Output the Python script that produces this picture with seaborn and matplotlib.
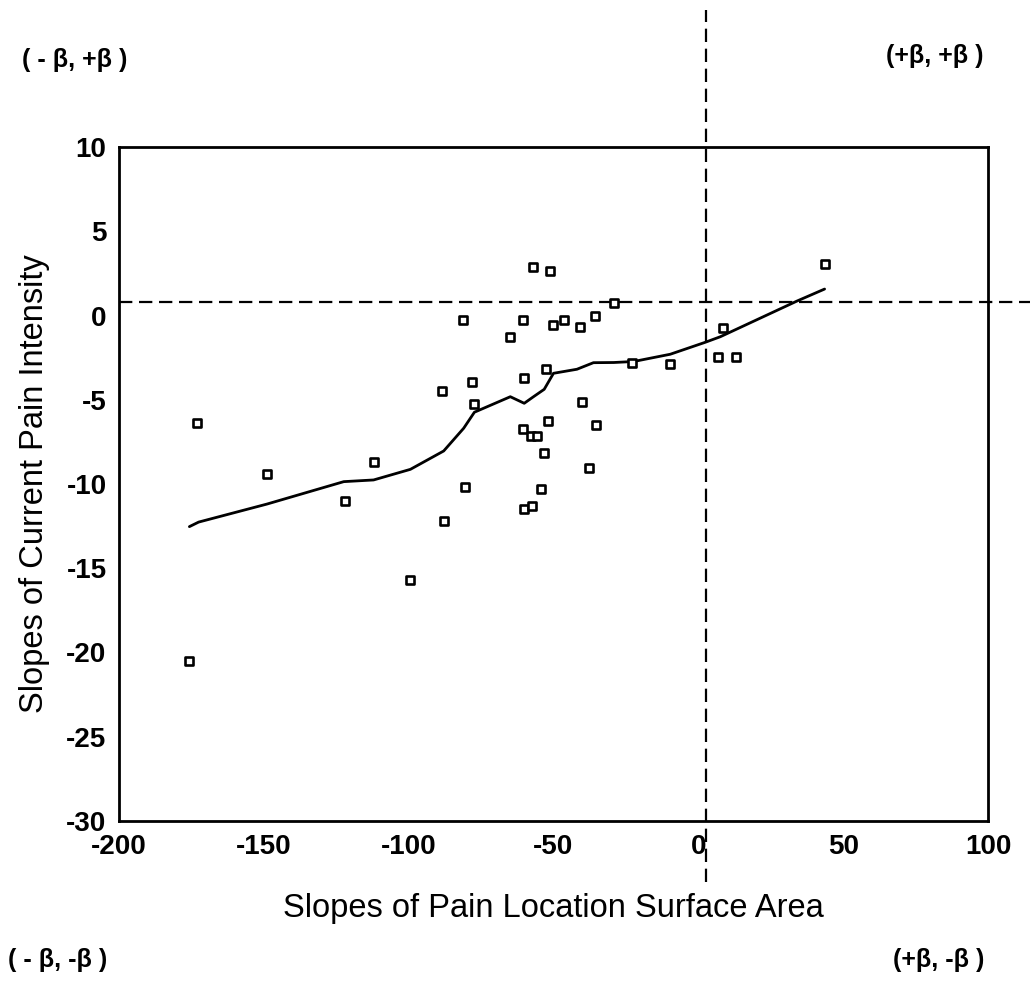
import matplotlib
matplotlib.use("Agg")
import matplotlib.pyplot as plt
import seaborn as sns
import pandas as pd

# ---- data ----
pla_slopes = [-56.9, -51.2, -29.1, -81.1, -60.6, -50.1, -46.4, -40.8, -35.8, -64.9,
              -22.8, -52.7, -60.1, -78.0, -88.6, -77.3, -40.1, -52.0, -35.2, -60.6,
              -57.6, -55.7, -53.2, -37.7, -80.4, -54.2, -87.9, -60.1, -57.4, -173.2,
              -149.0, -112.0, -121.9, -99.6, -175.7, 43.6, 8.4, 6.9, 13.0, -9.9]
cpi_slopes = [2.86, 2.64, 0.76, -0.25, -0.25, -0.54, -0.25, -0.66, -0.03, -1.30,
              -2.80, -3.19, -3.73, -3.95, -4.46, -5.23, -5.11, -6.28, -6.48, -6.72,
              -7.13, -7.13, -8.18, -9.05, -10.2, -10.3, -12.2, -11.5, -11.3, -6.40,
              -9.43, -8.69, -11.0, -15.7, -20.5, 3.07, -0.76, -2.44, -2.44, -2.88]

fit_x = [-175.7, -172.5, -148.9, -122.4, -112.1, -99.4, -87.9, -81.0, -77.3, -64.9,
         -60.1, -56.9, -53.2, -50.0, -41.9, -36.2, -29.2, -22.3, -9.7, 2.4, 7.6, 34.1, 43.6]
fit_y = [-12.53, -12.26, -11.19, -9.86, -9.76, -9.13, -8.04, -6.69, -5.74, -4.82,
         -5.21, -4.82, -4.38, -3.43, -3.19, -2.80, -2.79, -2.73, -2.30, -1.59, -1.26, 0.86, 1.57]

ref_x = 2.8   # vertical dashed reference
ref_y = 0.8   # horizontal dashed reference

x_ticks = [-200, -150, -100, -50, 0, 50, 100]
y_ticks = [10, 5, 0, -5, -10, -15, -20, -25, -30]

x_label = "Slopes of Pain Location Surface Area"
y_label = "Slopes of Current Pain Intensity"
quadrants = {"tl": "( - β, +β )", "tr": "(+β, +β )", "bl": "( - β, -β )", "br": "(+β, -β )"}

# ---- plotting ----
sns.set_style("white")
plt.rcParams['font.family'] = ['Liberation Sans', 'DejaVu Sans']
plt.rcParams['text.color'] = 'black'
plt.rcParams['axes.labelcolor'] = 'black'

fig = plt.figure(figsize=(10.33, 10.0), dpi=100)
ax = fig.add_axes([0.1152, 0.179, 0.8412, 0.674])

df = pd.DataFrame({"x": pla_slopes, "y": cpi_slopes})
fit = pd.DataFrame({"x": fit_x, "y": fit_y})

sns.lineplot(data=fit, x="x", y="y", sort=False, estimator=None, color="black",
             linewidth=2.0, ax=ax, zorder=3)
sns.scatterplot(data=df, x="x", y="y", marker="s", s=30, facecolor="white",
                edgecolor="black", linewidth=1.9, ax=ax, zorder=4)

ax.set_xlim(-200, 100)
ax.set_ylim(-30, 10)
ax.set_xticks(x_ticks)
ax.set_yticks(y_ticks)
ax.set_xticklabels([str(t) for t in x_ticks])
ax.set_yticklabels([str(t) for t in y_ticks])
ax.tick_params(axis="both", direction="out", length=3, width=2, labelsize=20, pad=6,
               colors="black")
for lab in ax.get_xticklabels() + ax.get_yticklabels():
    lab.set_fontweight("bold")

for sp in ax.spines.values():
    sp.set_visible(True)
    sp.set_color("black")
    sp.set_linewidth(2.0)

ax.axvline(ref_x, ymin=-0.09, ymax=1.203, clip_on=False, color="black",
           linewidth=1.6, dashes=(6, 3), zorder=2)
ax.axhline(ref_y, xmin=0.0, xmax=1.048, clip_on=False, color="black",
           linewidth=1.6, dashes=(6, 3), zorder=2)

ax.set_xlabel(x_label, fontsize=23.5, labelpad=24)
ax.set_ylabel(y_label, fontsize=23.5, labelpad=12)

qfont = dict(fontsize=18, fontweight="bold", color="black")
fig.text(22 / 1033, 1 - 60 / 1000, quadrants["tl"], ha="left", va="center", **qfont)
fig.text(984 / 1033, 1 - 56 / 1000, quadrants["tr"], ha="right", va="center", **qfont)
fig.text(8 / 1033, 1 - 960 / 1000, quadrants["bl"], ha="left", va="center", **qfont)
fig.text(984 / 1033, 1 - 960 / 1000, quadrants["br"], ha="right", va="center", **qfont)

fig.savefig("out.png", dpi=100, facecolor="white")
